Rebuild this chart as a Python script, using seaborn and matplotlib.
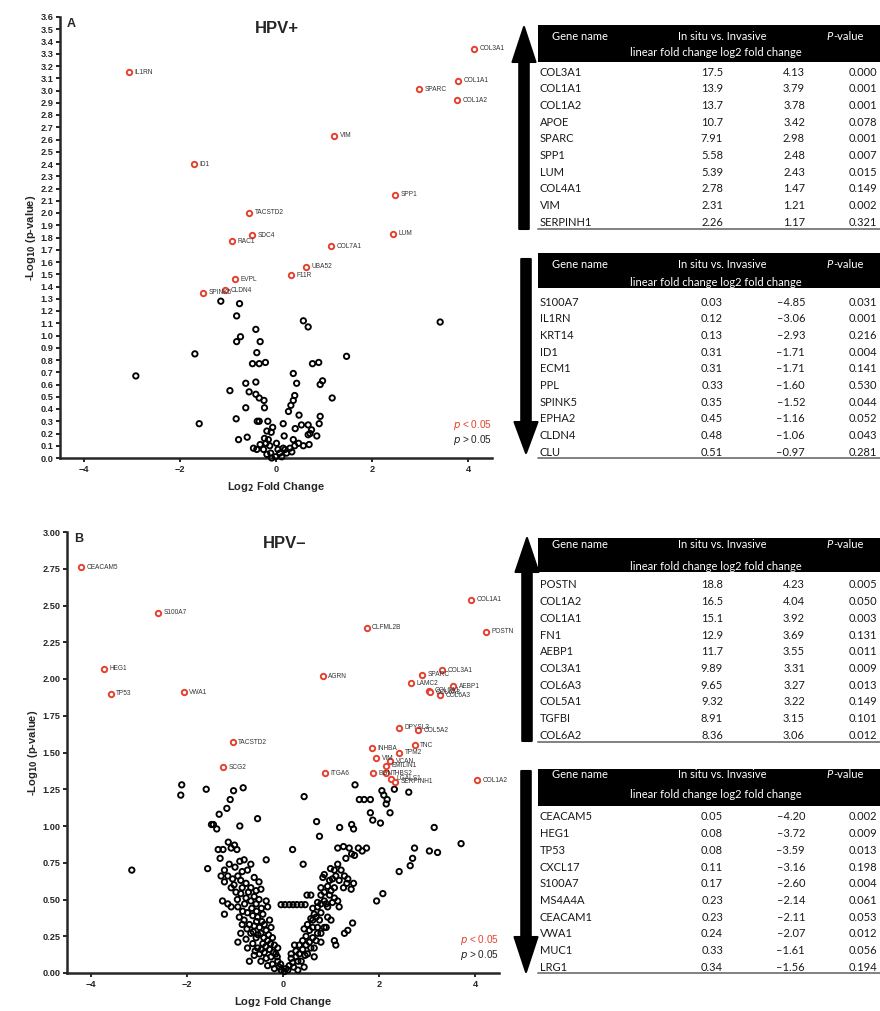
import numpy as np
import pandas as pd
import matplotlib
matplotlib.use("Agg")
import matplotlib.pyplot as plt
import seaborn as sns
from matplotlib.patches import FancyArrow, Rectangle

sns.set_theme(style="ticks")
plt.rcParams['font.family'] = ['Liberation Sans', 'DejaVu Sans']

RED = "#e5412f"

# ---------------- HPV+ volcano data ----------------
hpvp_sig_genes = ["COL3A1", "COL1A1", "SPARC", "COL1A2", "IL1RN", "VIM", "ID1", "SPP1",
                  "TACSTD2", "SDC4", "LUM", "RAC1", "COL7A1", "UBA52", "F11R", "EVPL",
                  "SPINK5", "CLDN4"]
hpvp_sig_lfc = [4.13, 3.79, 2.98, 3.78, -3.06, 1.21, -1.71, 2.48, -0.56, -0.50, 2.43, -0.92,
                1.15, 0.62, 0.31, -0.86, -1.52, -1.06]
hpvp_sig_nlp = [3.34, 3.08, 3.01, 2.92, 3.15, 2.63, 2.40, 2.15, 2.00, 1.82, 1.83, 1.77,
                1.73, 1.56, 1.49, 1.46, 1.35, 1.37]

hpvp_ns = [(-1.15, 1.28), (-0.76, 1.26), (-0.82, 1.16), (3.42, 1.11), (0.57, 1.12), (0.67, 1.07),
           (-0.42, 1.05), (-0.74, 0.99), (-0.82, 0.95), (-0.33, 0.95), (-1.69, 0.85), (-0.40, 0.86),
           (1.47, 0.83), (-0.49, 0.77), (-0.35, 0.77), (-0.22, 0.78), (0.76, 0.77), (0.89, 0.78),
           (-2.92, 0.67), (0.36, 0.69), (-0.63, 0.61), (-0.42, 0.62), (0.43, 0.61), (0.97, 0.63),
           (0.92, 0.60), (-0.96, 0.55), (-0.56, 0.54), (-0.42, 0.52), (-0.35, 0.49), (0.39, 0.51),
           (1.17, 0.49), (-0.25, 0.47), (0.36, 0.47), (-0.63, 0.41), (-0.24, 0.41), (0.31, 0.43),
           (0.26, 0.38), (0.48, 0.35), (0.92, 0.34), (-0.83, 0.32), (-0.39, 0.30), (-0.35, 0.30),
           (-0.17, 0.30), (-1.60, 0.28), (0.15, 0.28), (0.40, 0.24), (0.53, 0.27), (0.67, 0.27),
           (0.90, 0.28), (-0.07, 0.25), (-0.19, 0.22), (0.74, 0.23), (-0.10, 0.21), (0.71, 0.20),
           (-0.60, 0.17), (-0.78, 0.15), (0.17, 0.18), (0.85, 0.18), (-0.24, 0.16), (0.36, 0.15),
           (0.67, 0.19), (0.69, 0.11), (0.57, 0.10), (-0.47, 0.08), (-0.40, 0.07), (-0.21, 0.12),
           (-0.13, 0.10), (-0.11, 0.04), (-0.01, 0.01), (0.08, 0.04), (0.19, 0.07), (0.29, 0.08),
           (0.39, 0.10), (0.47, 0.12), (-0.26, 0.07), (-0.19, 0.03), (0.04, 0.07), (0.22, 0.04),
           (-0.33, 0.11), (0.33, 0.05), (0.12, 0.01), (-0.09, 0.00), (0.01, 0.12), (-0.16, 0.15),
           (0.15, 0.08)]

# ---------------- HPV- volcano data ----------------
hpvn_sig_genes = ["CEACAM5", "S100A7", "HEG1", "TP53", "VWA1", "TACSTD2", "SCG2", "ITGA6",
                  "OLFML2B", "AGRN", "COL1A1", "POSTN", "COL3A1", "SPARC", "LAMC2", "AEBP1",
                  "COL6A1", "COL6A2", "COL6A3", "DPYSL3", "COL5A2", "TNC", "INHBA", "TPM2",
                  "VIM", "VCAN", "EMILIN1", "BGN", "THBS2", "LGALS1", "SERPINH1", "COL1A2"]
hpvn_sig_lfc = [-4.20, -2.60, -3.72, -3.59, -2.07, -1.05, -1.24, 0.88,
                1.74, 0.83, 3.92, 4.23, 3.31, 2.90, 2.66, 3.55,
                3.04, 3.07, 3.27, 2.42, 2.82, 2.74, 1.85, 2.42,
                1.94, 2.23, 2.15, 1.88, 2.15, 2.25, 2.33, 4.04]
hpvn_sig_nlp = [2.76, 2.45, 2.07, 1.90, 1.91, 1.57, 1.40, 1.36,
                2.35, 2.02, 2.54, 2.32, 2.06, 2.03, 1.97, 1.95,
                1.92, 1.91, 1.89, 1.67, 1.65, 1.55, 1.53, 1.50,
                1.46, 1.44, 1.41, 1.36, 1.36, 1.32, 1.30, 1.31]

hpvn_ns = [(-3.15, 0.70), (-2.13, 1.21), (-2.11, 1.28), (-1.60, 1.25), (-1.03, 1.24), (-0.83, 1.26),
           (-1.10, 1.18), (-1.17, 1.12), (-1.33, 1.08), (-1.49, 1.01), (-1.45, 1.01), (-1.38, 0.98),
           (-0.90, 1.00), (-0.53, 1.05), (0.44, 1.20), (0.70, 1.03), (0.76, 0.93), (1.18, 0.99),
           (1.43, 1.01), (1.47, 0.98), (1.50, 1.28), (1.59, 1.18), (1.69, 1.18), (1.82, 1.18),
           (1.82, 1.09), (1.87, 1.04), (2.03, 1.02), (2.06, 1.24), (2.10, 1.21), (2.17, 1.18),
           (2.15, 1.15), (2.23, 1.09), (2.32, 1.25), (2.62, 1.23), (1.95, 0.49), (2.08, 0.54),
           (2.42, 0.69), (2.65, 0.73), (2.70, 0.78), (2.74, 0.85), (3.05, 0.83), (3.22, 0.82),
           (3.15, 0.99), (3.71, 0.88), (-1.57, 0.71), (0.20, 0.84), (-0.35, 0.77), (0.42, 0.74),
           (1.14, 0.85), (1.26, 0.86), (1.38, 0.85), (1.57, 0.85), (1.74, 0.85), (1.43, 0.81),
           (1.49, 0.80), (1.31, 0.78), (1.65, 0.83),
           # left arm
           (-1.35, 0.84), (-1.25, 0.84), (-1.08, 0.85), (-1.01, 0.87), (-0.96, 0.84), (-1.14, 0.89),
           (-1.31, 0.78), (-0.90, 0.76), (-0.81, 0.77), (-0.67, 0.74), (-0.74, 0.70), (-1.22, 0.70),
           (-1.15, 0.66), (-1.29, 0.66), (-1.05, 0.64), (-0.94, 0.66), (-0.88, 0.63), (-0.77, 0.61),
           (-0.67, 0.58), (-0.56, 0.56), (-0.46, 0.57), (-1.22, 0.62), (-1.08, 0.58), (-0.98, 0.55),
           (-0.88, 0.54), (-0.77, 0.51), (-0.67, 0.49), (-0.56, 0.47), (-0.35, 0.49), (-0.32, 0.45),
           (-1.26, 0.49), (-1.15, 0.47), (-1.08, 0.45), (-1.22, 0.40), (-0.94, 0.45), (-0.84, 0.42),
           (-0.74, 0.41), (-0.63, 0.39), (-0.53, 0.38), (-0.42, 0.40), (-0.91, 0.38), (-0.81, 0.36),
           (-0.70, 0.33), (-0.60, 0.32), (-0.49, 0.31), (-0.39, 0.33), (-0.28, 0.36), (-0.88, 0.27),
           (-0.94, 0.21), (-0.77, 0.23), (-0.67, 0.27), (-0.56, 0.24), (-0.46, 0.27), (-0.35, 0.29),
           (-0.25, 0.31), (-0.74, 0.17), (-0.63, 0.20), (-0.53, 0.17), (-0.42, 0.20), (-0.32, 0.22),
           (-0.22, 0.24), (-0.70, 0.08), (-0.60, 0.12), (-0.49, 0.13), (-0.39, 0.14), (-0.28, 0.16),
           (-0.18, 0.19), (-0.46, 0.08), (-0.35, 0.10), (-0.25, 0.11), (-0.15, 0.13), (-0.32, 0.05),
           (-0.22, 0.06), (-0.11, 0.08), (-0.18, 0.03), (-0.08, 0.04), (-0.04, 0.02), (0.03, 0.01),
           (0.10, 0.02), (0.22, 0.04), (-0.11, 0.17), (-1.02, 0.60), (-0.85, 0.58), (-0.72, 0.55),
           (-0.60, 0.52), (-0.50, 0.50), (-0.95, 0.50), (-0.80, 0.47), (-0.65, 0.44), (-0.45, 0.44),
           (-0.55, 0.42), (-0.75, 0.30), (-0.62, 0.28), (-0.52, 0.26), (-0.40, 0.24), (-0.30, 0.26),
           (-0.85, 0.33), (-0.58, 0.15), (-0.45, 0.16), (-0.36, 0.18), (-0.26, 0.20), (-0.20, 0.14),
           (-0.12, 0.11), (-0.05, 0.06), (-0.55, 0.35), (-0.44, 0.35), (-1.00, 0.72), (-0.85, 0.69),
           (-1.12, 0.74), (-0.60, 0.65), (-0.50, 0.62),
           # right arm
           (1.14, 0.74), (1.21, 0.70), (1.10, 0.66), (1.03, 0.64), (1.28, 0.66), (1.35, 0.64),
           (1.33, 0.61), (1.47, 0.61), (1.42, 0.57), (1.26, 0.58), (0.93, 0.59), (0.86, 0.55),
           (0.97, 0.53), (0.79, 0.53), (1.07, 0.51), (1.03, 0.48), (1.14, 0.49), (1.17, 0.45),
           (0.90, 0.47), (0.72, 0.45), (0.79, 0.41), (0.65, 0.40), (0.58, 0.37), (0.51, 0.33),
           (0.44, 0.30), (0.62, 0.31), (0.76, 0.36), (0.93, 0.38), (0.86, 0.31), (0.72, 0.27),
           (0.62, 0.24), (0.55, 0.21), (0.48, 0.19), (0.41, 0.16), (0.34, 0.13), (0.27, 0.11),
           (0.20, 0.07), (0.13, 0.05), (0.06, 0.03), (0.38, 0.08), (0.51, 0.13), (0.65, 0.17),
           (0.79, 0.21), (0.65, 0.11), (0.44, 0.04), (0.31, 0.02), (1.45, 0.34), (1.35, 0.29),
           (1.28, 0.27), (1.07, 0.22), (1.10, 0.19), (0.50, 0.53), (0.17, 0.10), (0.27, 0.15),
           (0.34, 0.19), (0.41, 0.22), (0.48, 0.25), (0.55, 0.29), (0.62, 0.36), (0.69, 0.38),
           (0.79, 0.47), (0.86, 0.49), (0.62, 0.44), (0.72, 0.31), (0.93, 0.45), (1.00, 0.56),
           (1.07, 0.58), (0.79, 0.58), (0.97, 0.63), (0.86, 0.67), (0.72, 0.48), (1.17, 0.63),
           (1.07, 0.70), (0.99, 0.71), (0.83, 0.65), (0.58, 0.53), (0.24, 0.19), (0.17, 0.13),
           (0.31, 0.08), (0.46, 0.12), (0.58, 0.17), (0.69, 0.22), (0.79, 0.27), (0.90, 0.31),
           (1.00, 0.36),
           # flat row
           (-0.04, 0.465), (0.04, 0.465), (0.13, 0.465), (0.21, 0.465), (0.29, 0.465), (0.38, 0.465),
           (0.46, 0.465)]

# ---------------- tables ----------------
tA_up_genes = ["COL3A1", "COL1A1", "COL1A2", "APOE", "SPARC", "SPP1", "LUM", "COL4A1", "VIM", "SERPINH1"]
tA_up_lin = ["17.5", "13.9", "13.7", "10.7", "7.91", "5.58", "5.39", "2.78", "2.31", "2.26"]
tA_up_log2 = ["4.13", "3.79", "3.78", "3.42", "2.98", "2.48", "2.43", "1.47", "1.21", "1.17"]
tA_up_p = ["0.000", "0.001", "0.001", "0.078", "0.001", "0.007", "0.015", "0.149", "0.002", "0.321"]

tA_dn_genes = ["S100A7", "IL1RN", "KRT14", "ID1", "ECM1", "PPL", "SPINK5", "EPHA2", "CLDN4", "CLU"]
tA_dn_lin = ["0.03", "0.12", "0.13", "0.31", "0.31", "0.33", "0.35", "0.45", "0.48", "0.51"]
tA_dn_log2 = ["\u20134.85", "\u20133.06", "\u20132.93", "\u20131.71", "\u20131.71", "\u20131.60",
              "\u20131.52", "\u20131.16", "\u20131.06", "\u20130.97"]
tA_dn_p = ["0.031", "0.001", "0.216", "0.004", "0.141", "0.530", "0.044", "0.052", "0.043", "0.281"]

tB_up_genes = ["POSTN", "COL1A2", "COL1A1", "FN1", "AEBP1", "COL3A1", "COL6A3", "COL5A1", "TGFBI", "COL6A2"]
tB_up_lin = ["18.8", "16.5", "15.1", "12.9", "11.7", "9.89", "9.65", "9.32", "8.91", "8.36"]
tB_up_log2 = ["4.23", "4.04", "3.92", "3.69", "3.55", "3.31", "3.27", "3.22", "3.15", "3.06"]
tB_up_p = ["0.005", "0.050", "0.003", "0.131", "0.011", "0.009", "0.013", "0.149", "0.101", "0.012"]

tB_dn_genes = ["CEACAM5", "HEG1", "TP53", "CXCL17", "S100A7", "MS4A4A", "CEACAM1", "VWA1", "MUC1", "LRG1"]
tB_dn_lin = ["0.05", "0.08", "0.08", "0.11", "0.17", "0.23", "0.23", "0.24", "0.33", "0.34"]
tB_dn_log2 = ["\u20134.20", "\u20133.72", "\u20133.59", "\u20133.16", "\u20132.60", "\u20132.14",
              "\u20132.11", "\u20132.07", "\u20131.61", "\u20131.56"]
tB_dn_p = ["0.002", "0.009", "0.013", "0.198", "0.004", "0.061", "0.053", "0.012", "0.056", "0.194"]


def volcano(ax, genes, lfc, nlp, ns, ymax, yticks, yfmt, title, letter):
    sig = pd.DataFrame({"gene": genes, "lfc": lfc, "nlp": nlp})
    nsd = pd.DataFrame(ns, columns=["lfc", "nlp"])
    sns.scatterplot(data=nsd, x="lfc", y="nlp", ax=ax, s=15, facecolor="none",
                    edgecolor="black", linewidth=1.35, clip_on=False, zorder=3)
    sns.scatterplot(data=sig, x="lfc", y="nlp", ax=ax, s=15, facecolor="white",
                    edgecolor=RED, linewidth=1.4, clip_on=False, zorder=4)
    for _, r in sig.iterrows():
        ax.annotate(r["gene"], (r["lfc"], r["nlp"]), xytext=(4.0, 0), textcoords="offset points",
                    fontsize=4.7, color="#333333", va="center", ha="left", zorder=5)
    ax.set_xlim(-4.5, 4.5)
    ax.set_ylim(0, ymax)
    ax.set_xticks([-4, -2, 0, 2, 4])
    ax.set_xticklabels(["\u22124", "\u22122", "0", "2", "4"])
    ax.set_yticks(yticks)
    ax.set_yticklabels([yfmt.format(t) for t in yticks])
    sns.despine(ax=ax)
    for s in ["left", "bottom"]:
        ax.spines[s].set_linewidth(1.8)
    ax.tick_params(width=1.4, length=3.2, labelsize=6.6, pad=1.5)
    for lbl in ax.get_xticklabels() + ax.get_yticklabels():
        lbl.set_fontweight("bold")
    ax.set_xlabel("Log$_\\mathbf{2}$ Fold Change", fontsize=8, fontweight="bold", labelpad=5)
    ax.set_ylabel("-Log$_\\mathbf{10}$ (p-value)", fontsize=8, fontweight="bold", labelpad=2)
    ax.text(0.503, 0.975, title, transform=ax.transAxes, ha="center", va="center",
            fontsize=12, fontweight="bold")
    ax.text(0.026, 0.985, letter, transform=ax.transAxes, ha="center", va="center",
            fontsize=9, fontweight="bold")
    ax.text(1.0, 0.075, "$\\it{p}$ < 0.05", transform=ax.transAxes, ha="right", va="center",
            fontsize=7.2, color=RED)
    ax.text(1.0, 0.041, "$\\it{p}$ > 0.05", transform=ax.transAxes, ha="right", va="center",
            fontsize=7.2, color="#222222")


fig = plt.figure(figsize=(8.8, 10.11), dpi=100)

axA = fig.add_axes([60 / 880, 1 - 458 / 1011, 432 / 880, 441 / 1011])
volcano(axA, hpvp_sig_genes, hpvp_sig_lfc, hpvp_sig_nlp, hpvp_ns, 3.6,
        np.round(np.arange(0, 3.65, 0.1), 1), "{:.1f}", "HPV+", "A")

axB = fig.add_axes([67 / 880, 1 - 973 / 1011, 432 / 880, 441 / 1011])
volcano(axB, hpvn_sig_genes, hpvn_sig_lfc, hpvn_sig_nlp, hpvn_ns, 3.0,
        np.arange(0, 3.01, 0.25), "{:.2f}", "HPV\u2013", "B")

# overlay in pixel coordinates for tables and arrows
ov = fig.add_axes([0, 0, 1, 1])
ov.set_xlim(0, 880)
ov.set_ylim(1011, 0)
ov.set_axis_off()

tfont = dict(family=["Lato", "DejaVu Sans"], fontsize=8)
ROW_H = 16.7


def draw_table(genes, lin, log2, pv, hdr_top, hdr_bot, l1, l2, row0, line_y):
    ov.add_patch(Rectangle((538, hdr_top), 345, hdr_bot - hdr_top, color="black", lw=0))
    ov.text(580, l1, "Gene name", color="white", ha="center", va="center", **tfont)
    ov.text(722, l1, "In situ vs. Invasive", color="white", ha="center", va="center", **tfont)
    ov.text(833, l1, "P", color="white", ha="right", va="center", style="italic", **tfont)
    ov.text(833, l1, "-value", color="white", ha="left", va="center", **tfont)
    ov.text(716, l2, "linear fold change log2 fold change", color="white", ha="center",
            va="center", **tfont)
    for i, (g, a, b, p) in enumerate(zip(genes, lin, log2, pv)):
        y = row0 + i * ROW_H
        ov.text(540, y, g, color="#1a1a1a", ha="left", va="center", **tfont)
        ov.text(723, y, a, color="#1a1a1a", ha="right", va="center", **tfont)
        ov.text(805, y, b, color="#1a1a1a", ha="right", va="center", **tfont)
        ov.text(877, y, p, color="#1a1a1a", ha="right", va="center", **tfont)
    ov.plot([538, 880], [line_y, line_y], color="#777777", lw=1.3)


draw_table(tA_up_genes, tA_up_lin, tA_up_log2, tA_up_p, 25, 62, 37, 53, 72, 229)
draw_table(tA_dn_genes, tA_dn_lin, tA_dn_log2, tA_dn_p, 253, 288, 265, 282, 302, 458)
draw_table(tB_up_genes, tB_up_lin, tB_up_log2, tB_up_p, 538, 572, 545, 566, 585, 742)
draw_table(tB_dn_genes, tB_dn_lin, tB_dn_log2, tB_dn_p, 769, 806, 775, 795, 817, 973)


def arrow(x, y0, y1, head_len):
    ov.add_patch(FancyArrow(x, y0, 0, y1 - y0, width=9.5, head_width=23, head_length=head_len,
                            length_includes_head=True, color="black", lw=1.5, joinstyle="round"))


arrow(524, 229, 27, 35)
arrow(526, 259, 453, 31)
arrow(527, 741, 538, 34)
arrow(526, 771, 972, 35)

fig.savefig("out.png", dpi=100)
